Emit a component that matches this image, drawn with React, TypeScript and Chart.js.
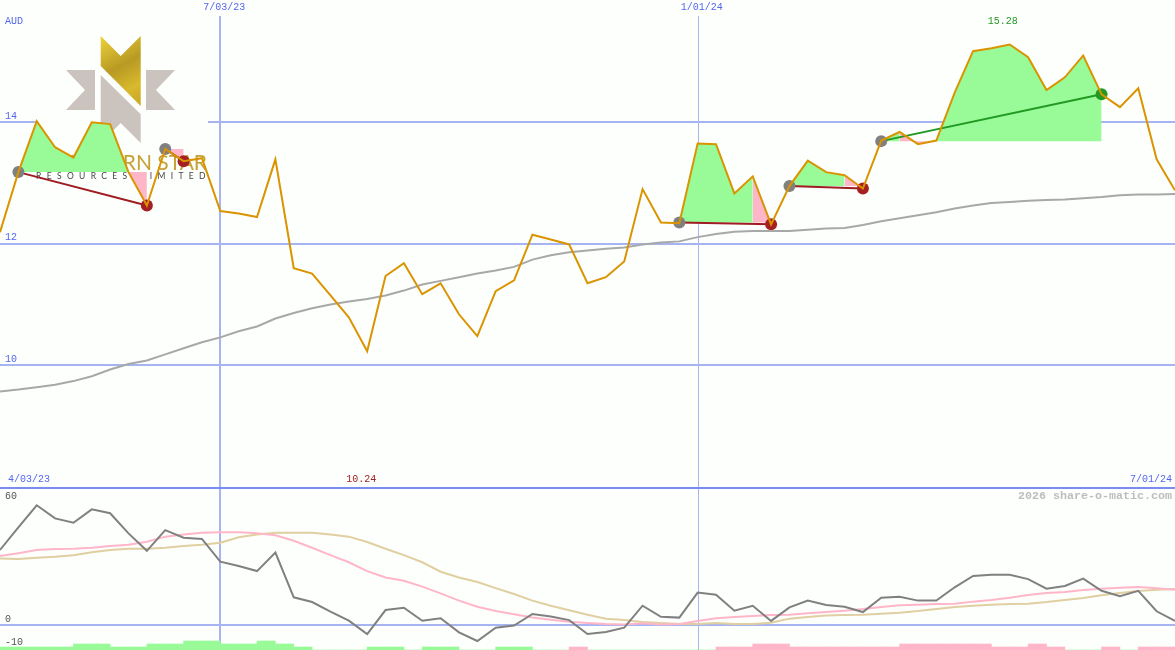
import React, { useEffect, useRef } from "react";
import { Chart, registerables } from "chart.js";

Chart.register(...registerables);

const price = [12.19,13.18,14.02,13.59,13.42,14.0,13.97,13.18,12.63,13.56,13.36,13.41,12.54,12.5,12.44,13.39,11.6,11.51,11.15,10.79,10.23,11.47,11.68,11.17,11.35,10.84,10.48,11.22,11.4,12.15,12.07,11.99,11.35,11.45,11.71,12.9,12.35,12.34,13.65,13.64,12.83,13.11,12.32,12.95,13.37,13.18,13.13,12.91,13.7,13.84,13.64,13.7,14.49,15.17,15.22,15.28,15.07,14.53,14.74,15.1,14.46,14.25,14.56,13.39,12.88];
const movingAverage = [9.57,9.6,9.64,9.68,9.74,9.82,9.93,10.02,10.08,10.18,10.28,10.38,10.46,10.56,10.64,10.77,10.86,10.94,11.0,11.05,11.09,11.15,11.23,11.33,11.39,11.45,11.51,11.56,11.62,11.74,11.81,11.86,11.89,11.92,11.94,11.99,12.02,12.04,12.11,12.16,12.2,12.21,12.21,12.21,12.23,12.25,12.26,12.31,12.37,12.42,12.47,12.52,12.58,12.63,12.67,12.69,12.71,12.72,12.73,12.75,12.77,12.8,12.81,12.81,12.82];
const oscillator = [36.6,47.6,58.4,52,49.9,56.4,54.5,44.7,36.2,46.3,42.6,42,30.9,28.8,26.3,35.3,13.5,11.2,6.5,2.1,-4.4,7.3,8.4,2.1,3.3,-3.6,-7.8,-1.3,-0.3,5.4,4.1,2.4,-4.4,-3.4,-1.3,9.4,4,3.6,15.8,14.8,7,9.4,2,8.6,11.9,9.8,8.9,6.3,13.3,13.8,11.9,11.9,18.4,23.9,24.5,24.5,22.4,17.7,19,22.6,16.7,14.1,16.7,6.7,2];
const signalFast = [33.7,35,36.6,37.1,37.2,37.7,38.5,39.2,40.6,43.1,44.1,45,45.2,45.2,44.7,43.8,41.1,37.7,34.1,30.6,26.3,23.2,21.6,18.7,15.4,11.9,8.9,6.8,5.2,3.7,2.6,1.6,1,0.5,0.3,0.8,0.3,0.5,2,3.3,3.9,4.4,4.9,5,5.7,6.3,7,7.8,8.8,9.6,9.9,10.2,10.4,11.4,12.2,13.3,14.6,15.6,16.1,17.1,17.7,18.2,18.5,17.9,17.2];
const signalSlow = [32.5,32.2,32.8,33.3,34,35.5,36.6,37.2,37.2,37.7,38.5,39.2,40.1,42.8,44.1,45,45,45,44.1,43.1,40.5,37.2,34.1,30.6,26,23.2,21,18,15.1,11.9,9.4,7.2,5,3.1,2.4,1.5,1,0.5,0.5,1,0.5,0.5,1.1,3.1,3.9,4.6,4.9,5,5.5,6,6.8,7.8,8.8,9.4,9.9,10.2,10.4,11.2,12.2,13.2,14.5,15.6,16.6,17.2,17.6];
const histogram = [1,1,1,1,2,2,1,1,2,2,3,3,2,2,3,2,1,0,0,0,1,1,0,1,1,0,0,1,1,0,0,-1,0,0,0,0,0,0,0,-1,-1,-2,-2,-1,-1,-1,-1,-1,-1,-2,-2,-2,-2,-2,-1,-1,-2,-1,0,0,-1,0,-1,-1];

const tradeEntryWeek = [1, 9, 37, 43, 48];
const tradeExitWeek = [8, 10, 42, 47, 60];
const tradeEntryPrice = [13.18, 13.56, 12.35, 12.95, 13.69];
const tradeExitPrice = [12.63, 13.36, 12.32, 12.91, 14.46];

const runTrade = [0, 0, 1, 2, 2, 3, 3, 4, 4, 4];
const runStart = [1, 7, 9, 37, 41, 43, 46, 48, 49, 51];
const runEnd = [7, 8, 10, 41, 42, 46, 47, 49, 51, 60];
const runGain = [true, false, false, true, false, true, false, true, false, true];

const priceTicks = [14, 12, 10];
const oscillatorTicks = [60, 0, -11.5];
const oscillatorTickLabels = ["60", "0", "-10"];
const dividerValue = 66.8;
const quarterWeeks = [12, 38];

const BACKGROUND = "#fdfffd";
const GREEN = "#98fb98";
const PINK = "#ffb6c8";
const GRID = "#a6b5f2";
const BLUE = "#5566ee";
const MONO = '"Liberation Mono", monospace';

const poly = (ctx: CanvasRenderingContext2D, pts: number[][], fill: any) => {
  ctx.beginPath();
  pts.forEach((p, i) => (i ? ctx.lineTo(p[0], p[1]) : ctx.moveTo(p[0], p[1])));
  ctx.closePath();
  ctx.fillStyle = fill;
  ctx.fill();
};

const drawLogo = (ctx: CanvasRenderingContext2D) => {
  ctx.save();
  ctx.fillStyle = BACKGROUND;
  ctx.fillRect(37, 36, 171, 146);
  const taupe = "#cbc3bd";
  poly(ctx, [[66, 70], [95, 70], [95, 110], [66, 110], [85, 90]], taupe);
  poly(ctx, [[175, 70], [146, 70], [146, 110], [175, 110], [156, 90]], taupe);
  poly(ctx, [[100.7, 75], [140.7, 114.3], [140.7, 143], [120.7, 123], [100.7, 143]], taupe);
  const gold = ctx.createLinearGradient(100, 36, 140, 106);
  gold.addColorStop(0, "#efd23a");
  gold.addColorStop(0.45, "#b89a24");
  gold.addColorStop(0.75, "#d8b82c");
  gold.addColorStop(1, "#c9a825");
  poly(ctx, [[100.7, 36], [120.7, 56], [140.7, 36], [140.7, 106], [100.7, 66]], gold);
  ctx.textBaseline = "alphabetic";
  ctx.textAlign = "right";
  ctx.fillStyle = "#c6a234";
  ctx.font = '400 21px "Lato", sans-serif';
  ctx.fillText("NORTHERN STAR", 207, 170);
  ctx.fillStyle = "#444444";
  ctx.textAlign = "left";
  ctx.font = '8.5px "Lato", sans-serif';
  (ctx as any).letterSpacing = "5.35px";
  ctx.fillText("RESOURCES LIMITED", 36, 179);
  ctx.restore();
};

const backdrop = {
  id: "backdrop",
  beforeDraw(chart: any) {
    const { ctx, width, height } = chart;
    ctx.save();
    ctx.fillStyle = BACKGROUND;
    ctx.fillRect(0, 0, width, height);
    ctx.restore();
  },
  beforeDatasetsDraw(chart: any) {
    const { ctx, scales } = chart;
    drawLogo(ctx);
    ctx.save();
    ctx.strokeStyle = GRID;
    quarterWeeks.forEach((w, i) => {
      const wide = i === 0;
      const x = Math.round(scales.x.getPixelForValue(w)) + (wide ? 0 : 0.5);
      ctx.lineWidth = wide ? 2 : 1;
      ctx.beginPath();
      ctx.moveTo(x, 16);
      ctx.lineTo(x, 650);
      ctx.stroke();
    });
    const yd = Math.round(scales.yOsc.getPixelForValue(dividerValue));
    ctx.strokeStyle = "#7b8cf0";
    ctx.lineWidth = 2;
    ctx.beginPath();
    ctx.moveTo(0, yd);
    ctx.lineTo(1175, yd);
    ctx.stroke();
    ctx.restore();
  },
  afterDraw(chart: any) {
    const { ctx, scales } = chart;
    const x = (w: number) => scales.x.getPixelForValue(w);
    const put = (t: string, px: number, py: number, color: string, align: CanvasTextAlign, font = `10px ${MONO}`) => {
      ctx.fillStyle = color;
      ctx.textAlign = align;
      ctx.font = font;
      ctx.fillText(t, px, py);
    };
    ctx.save();
    ctx.textBaseline = "middle";
    put("AUD", 5, 21, BLUE, "left");
    put("7/03/23", x(12) + 4, 7, BLUE, "center");
    put("1/01/24", x(38) + 4, 7, BLUE, "center");
    put("4/03/23", x(0) + 8, 479, BLUE, "left");
    put("7/01/24", x(64) - 3, 479, BLUE, "right");
    put(Math.max(...price).toFixed(2), x(55) - 7, 21, "#229922", "center");
    put("10.24", x(20) - 6, 479, "#a52020", "center");
    put("2026 share-o-matic.com", 1172, 496, "#bdbdbd", "right", `bold 11.67px ${MONO}`);
    ctx.restore();
  },
};

const series = (vals: number[], from = 0) => vals.map((y, i) => ({ x: i + from, y }));

const flatten = (axis: any) => {
  axis.width = 0;
  axis.paddingTop = 0;
  axis.paddingBottom = 0;
  axis.paddingLeft = 0;
  axis.paddingRight = 0;
};

export default function App() {
  const ref = useRef<HTMLCanvasElement>(null);
  useEffect(() => {
    document.body.style.margin = "0";
    const fills = runStart.map((s, i) => ({
      type: "line",
      data: series(price.slice(s, runEnd[i] + 1), s),
      borderWidth: 0,
      borderColor: "transparent",
      pointRadius: 0,
      yAxisID: "yPrice",
      order: 10,
      fill: {
        target: { value: tradeEntryPrice[runTrade[i]] },
        above: runGain[i] ? GREEN : PINK,
        below: runGain[i] ? GREEN : PINK,
      },
    }));
    const trades = tradeEntryWeek.map((w, i) => {
      const win = tradeExitPrice[i] > tradeEntryPrice[i];
      const colour = win ? "#229922" : "#9e1c22";
      return {
        type: "line",
        data: [
          { x: w, y: tradeEntryPrice[i] },
          { x: tradeExitWeek[i], y: tradeExitPrice[i] },
        ],
        borderColor: colour,
        borderWidth: 2,
        pointRadius: 6,
        pointBorderWidth: 0,
        pointBackgroundColor: ["#808080", win ? "#229922" : "#a52020"],
        yAxisID: "yPrice",
        order: 5,
        fill: false,
      };
    });
    const line = (vals: number[], colour: string, axis: string, order: number, width = 2) => ({
      type: "line",
      data: series(vals),
      borderColor: colour,
      borderWidth: width,
      pointRadius: 0,
      yAxisID: axis,
      order,
      fill: false,
    });
    const chart = new Chart(ref.current as HTMLCanvasElement, {
      type: "line",
      data: {
        datasets: [
          {
            type: "bar",
            data: histogram.map((v, i) => ({ x: i + 0.5, y: Math.abs(v) })),
            backgroundColor: histogram.map((v) => (v >= 0 ? GREEN : PINK)),
            barPercentage: 1,
            categoryPercentage: 1,
            borderWidth: 0,
            yAxisID: "yHist",
            order: 20,
          },
          ...fills,
          ...trades,
          line(movingAverage, "#a8a8a8", "yPrice", 3),
          line(price, "#d99400", "yPrice", 1),
          line(signalSlow, "#e0cfa0", "yOsc", 4),
          line(signalFast, "#ffb6c8", "yOsc", 3),
          line(oscillator, "#808080", "yOsc", 2),
        ] as any,
      },
      plugins: [backdrop],
      options: {
        animation: false,
        responsive: false,
        events: [],
        layout: { padding: 0, autoPadding: false },
        plugins: { legend: { display: false }, tooltip: { enabled: false } },
        scales: {
          x: { type: "linear", min: 0, max: 64, offset: false, display: false },
          yPrice: {
            type: "linear",
            position: "left",
            min: 5.314,
            max: 16.013,
            afterFit: flatten,
            border: { display: false },
            grid: { color: GRID, lineWidth: 2, drawTicks: false },
            afterBuildTicks: (axis: any) => {
              axis.ticks = priceTicks.map((value) => ({ value }));
            },
            ticks: {
              mirror: true,
              autoSkip: false,
              padding: 5,
              labelOffset: -6,
              color: BLUE,
              font: { family: "Liberation Mono", size: 10 },
              callback: (v: any) => String(v),
            },
          },
          yOsc: {
            type: "linear",
            position: "left",
            min: -12.195,
            max: 304.878,
            afterFit: flatten,
            border: { display: false },
            grid: {
              color: GRID,
              drawTicks: false,
              lineWidth: (c: any) => (c.tick && c.tick.value === 0 ? 2 : 0),
            },
            afterBuildTicks: (axis: any) => {
              axis.ticks = oscillatorTicks.map((value) => ({ value }));
            },
            ticks: {
              mirror: true,
              autoSkip: false,
              padding: 5,
              labelOffset: -6,
              color: "#555555",
              font: { family: "Liberation Mono", size: 10 },
              callback: (v: any) => oscillatorTickLabels[oscillatorTicks.indexOf(v)],
            },
          },
          yHist: { type: "linear", min: 0, max: 216.667, display: false },
        },
      } as any,
    });
    return () => chart.destroy();
  }, []);
  return <canvas ref={ref} width={1175} height={650} style={{ display: "block" }} />;
}
